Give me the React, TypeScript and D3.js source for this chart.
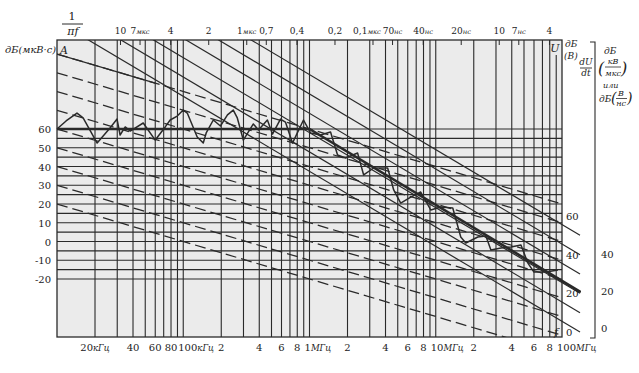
import * as d3 from "d3";

// frequency axis (Hz) and level axis (dB)
const bottomFreqs = [20e3, 40e3, 60e3, 80e3, 100e3, 200e3, 400e3, 600e3, 800e3, 1e6, 2e6, 4e6, 6e6, 8e6, 10e6, 20e6, 40e6, 60e6, 80e6, 100e6];
const bottomLabels = ["20", "40", "60", "80", "100", "2", "4", "6", "8", "1", "2", "4", "6", "8", "10", "2", "4", "6", "8", "100"];
const bottomUnits = ["кГц", "", "", "", "кГц", "", "", "", "", "МГц", "", "", "", "", "МГц", "", "", "", "", "МГц"];

// top scale: 1/(pi f), in microseconds
const topTimes = [10, 7, 4, 2, 1, 0.7, 0.4, 0.2, 0.1, 0.07, 0.04, 0.02, 0.01, 0.007, 0.004];
const topLabels = ["10", "7", "4", "2", "1", "0,7", "0,4", "0,2", "0,1", "70", "40", "20", "10", "7", "4"];
const topUnits = ["", "мкс", "", "", "мкс", "", "", "", "мкс", "нс", "нс", "нс", "", "нс", ""];

const leftTicks = [60, 50, 40, 30, 20, 10, 0, -10, -20];
const uTicks = [60, 40, 20, 0];
const dudtTicks = [40, 20, 0];

// -20 dB/decade lines, level at 10 kHz
const dashedStarts = [100, 90, 80, 70, 60, 50, 40, 30, 20];
// -40 dB/decade lines, value on U scale where they end
const solidU = [0, 10, 20, 30, 40, 50];

// envelope (thick)
const envFreqs = [10e3, 1e6, 141e6];
const envLevels = [60, 60, -27];

// measured spectrum
const curveFreqsKHz = [10, 11.8, 14.4, 16.1, 20.8, 26.3, 29.9, 31.6, 34.7, 38, 48.2, 60, 72, 78.8, 89.6, 100, 107.6, 129, 144, 152, 173, 197, 224, 249, 268, 299, 359, 394, 464, 509, 589, 645, 733, 896, 1019, 1222, 1468, 1668, 1931, 2404, 2685, 3222, 4159, 4645, 5277, 6339, 7603, 9126, 10960, 13640, 15780, 17300, 21540, 24950, 27350, 32830, 39390, 47300, 53700, 59980, 74650, 92900];
const curveLevels = [60, 64.3, 68.5, 65.9, 52.5, 60.5, 65.3, 56.8, 61.1, 58.9, 63.2, 54.1, 61.1, 64.8, 66.9, 70.1, 68.5, 55.7, 52.5, 57.9, 64.8, 61.6, 67.5, 70.1, 65.9, 54.1, 62.7, 59.5, 64.8, 57.3, 65.3, 63.7, 52.5, 64.8, 57.9, 56.8, 58.4, 46.1, 44.5, 47.2, 35.5, 39.2, 39.2, 27.5, 20.5, 23.7, 26.4, 16.8, 18.4, 17.9, 2.4, -0.8, 2.4, 2.9, -4.5, -3.5, -2.9, -1.9, -11.5, -16.3, -16.3, -15.2];

const W = 639;
const H = 373;
const L = 57, R = 562, T = 40, B = 337;
const X_END = 580;
const INK = "#2a2a2a";
const FONT = "DejaVu Serif";

export default function App() {
	const x = d3.scaleLog().domain([1e4, 1e8]).range([L, R]);
	const y = d3.scaleLinear().domain([-20, 60]).range([279, 129]);
	const yU = d3.scaleLinear().domain([0, 60]).range([332, 216]);
	const yD = d3.scaleLinear().domain([0, 40]).range([328, 254]);

	const line = d3
		.line<[number, number]>()
		.x((d) => x(d[0]))
		.y((d) => y(d[1]));

	const vGrid = x.ticks().filter((f) => f > 1e4 && f < 1e8);
	const hGrid = d3.range(-20, 61, 5);

	const fEnd = x.invert(X_END);
	const solidPaths = solidU.map((u) => {
		const dbEnd = y.invert(yU(u));
		return line([
			[1e4, dbEnd + 40 * Math.log10(fEnd / 1e4)],
			[fEnd, dbEnd],
		]);
	});
	const dashedPaths = dashedStarts.map((v) =>
		line([
			[1e4, v],
			[1e8, v - 80],
		]),
	);
	const aSolid = line([
		[1e4, 100],
		[6e4, 100 - 20 * Math.log10(6)],
	]);

	const env = line(envFreqs.map((f, i) => [f, envLevels[i]]));
	const curve = line(curveFreqsKHz.map((f, i) => [f * 1e3, curveLevels[i]]));

	return (
		<svg
			width={W}
			height={H}
			style={{ position: "absolute", left: 0, top: 0, background: "#fff" }}
			fontFamily={FONT}
		>
			<defs>
				<clipPath id="plot">
					<rect x={L} y={T} width={R - L} height={B - T} />
				</clipPath>
				<clipPath id="wide">
					<rect x={L} y={T} width={X_END - L + 1} height={B - T} />
				</clipPath>
			</defs>

			<rect x={L} y={T} width={R - L} height={B - T} fill="#ebebeb" />

			{/* grid */}
			{hGrid.map((v) => (
				<line key={v} x1={L} x2={R} y1={y(v)} y2={y(v)} stroke={INK} strokeWidth={1.1} />
			))}
			{vGrid.map((f) => (
				<line
					key={f}
					x1={x(f)}
					x2={x(f)}
					y1={f === 9e7 ? 55 : T}
					y2={B}
					stroke={INK}
					strokeWidth={1.1}
				/>
			))}

			{/* slanted lines */}
			<g clipPath="url(#plot)" fill="none" stroke={INK} strokeWidth={1.25}>
				{dashedPaths.map((d, i) => (
					<path key={i} d={d ?? ""} strokeDasharray="11,5" />
				))}
				<path d={aSolid ?? ""} />
			</g>
			<g clipPath="url(#wide)" fill="none" stroke={INK} strokeWidth={1.2}>
				{solidPaths.map((d, i) => (
					<path key={i} d={d ?? ""} />
				))}
				<path d={env ?? ""} strokeWidth={2.6} />
			</g>

			<path d={curve ?? ""} fill="none" stroke={INK} strokeWidth={1.5} strokeLinejoin="round" />

			{/* frame */}
			<rect x={L} y={T} width={R - L} height={B - T} fill="none" stroke={INK} strokeWidth={1.3} />

			{/* top time scale */}
			{topTimes.map((t, i) => {
				const xx = x(1 / (Math.PI * t * 1e-6));
				// the 0,1 mks label sits a little left of its tick, as in the original
				const nudge = t === 0.1 ? -6 : 0;
				return (
					<g key={i}>
						<line x1={xx} x2={xx} y1={T} y2={T + 5} stroke={INK} strokeWidth={1} />
						<text x={xx + nudge} y={34} fontSize={9} textAnchor="middle" fill="#222">
							{topLabels[i]}
							{topUnits[i] && (
								<tspan fontSize={6.8} fontStyle="italic">
									{topUnits[i]}
								</tspan>
							)}
						</text>
					</g>
				);
			})}

			{/* bottom frequency labels */}
			{bottomFreqs.map((f, i) => {
				const unit = bottomUnits[i];
				const start = unit !== "" && i > 0;
				return (
					<text
						key={i}
						x={start ? x(f) - 5 : x(f)}
						y={351}
						fontSize={10}
						textAnchor={start ? "start" : "middle"}
						fill="#222"
					>
						{bottomLabels[i]}
						{unit && (
							<tspan fontSize={8.5} fontStyle="italic">
								{unit}
							</tspan>
						)}
					</text>
				);
			})}

			{/* left axis */}
			{leftTicks.map((v) => (
				<text key={v} x={51} y={y(v) + 4} fontSize={10} textAnchor="end" fill="#222">
					{v}
				</text>
			))}
			<text x={5} y={53} fontSize={9.5} fontStyle="italic" textLength={51} lengthAdjust="spacingAndGlyphs" fill="#222">
				дБ(мкВ·с)
			</text>
			<text x={60} y={54} fontSize={11} fontStyle="italic" fill="#222">
				A
			</text>

			{/* 1 / (pi f) */}
			<text x={72} y={20} fontSize={11} textAnchor="middle" fill="#222">
				1
			</text>
			<line x1={62} x2={83} y1={24} y2={24} stroke={INK} strokeWidth={1} />
			<text x={73} y={35} fontSize={11} textAnchor="middle" fontStyle="italic" fill="#222">
				πf
			</text>

			{/* right U scale */}
			<text x={555} y={52} fontSize={11} fontStyle="italic" textAnchor="middle" fill="#222">
				U
			</text>
			<text x={565} y={47} fontSize={9} fontStyle="italic" fill="#222">
				дБ
			</text>
			<text x={564} y={59} fontSize={9} fontStyle="italic" fill="#222">
				(В)
			</text>
			{uTicks.map((v) => (
				<text key={v} x={566} y={yU(v) + 4} fontSize={10} fill="#222">
					{v}
				</text>
			))}
			<text x={556} y={336} fontSize={11} fontStyle="italic" textAnchor="middle" fill="#222">
				f
			</text>

			{/* dU/dt scale */}
			<text x={586} y={65} fontSize={9} fontStyle="italic" textAnchor="middle" fill="#222">
				dU
			</text>
			<line x1={580} x2={592} y1={68} y2={68} stroke={INK} strokeWidth={0.9} />
			<text x={586} y={76} fontSize={9} fontStyle="italic" textAnchor="middle" fill="#222">
				dt
			</text>
			<path d={`M590,42H595V338H590`} fill="none" stroke={INK} strokeWidth={1.1} />
			{dudtTicks.map((v) => (
				<text key={v} x={601} y={yD(v) + 4} fontSize={10} fill="#222">
					{v}
				</text>
			))}
			<g fontStyle="italic" fill="#222">
				<text x={604} y={54} fontSize={9}>
					дБ
				</text>
				<text x={598} y={74} fontSize={16}>
					(
				</text>
				<text x={613} y={64} fontSize={8} textAnchor="middle">
					кВ
				</text>
				<line x1={605} x2={621} y1={67} y2={67} stroke={INK} strokeWidth={0.8} />
				<text x={613} y={76} fontSize={8} textAnchor="middle">
					мкс
				</text>
				<text x={621} y={74} fontSize={16}>
					)
				</text>
				<text x={603} y={88} fontSize={8}>
					или
				</text>
				<text x={599} y={102} fontSize={9}>
					дБ
				</text>
				<text x={611} y={103} fontSize={14}>
					(
				</text>
				<text x={621} y={96} fontSize={8} textAnchor="middle">
					В
				</text>
				<line x1={616} x2={627} y1={98.5} y2={98.5} stroke={INK} strokeWidth={0.8} />
				<text x={621} y={106} fontSize={8} textAnchor="middle">
					нс
				</text>
				<text x={627} y={103} fontSize={14}>
					)
				</text>
			</g>
		</svg>
	);
}
